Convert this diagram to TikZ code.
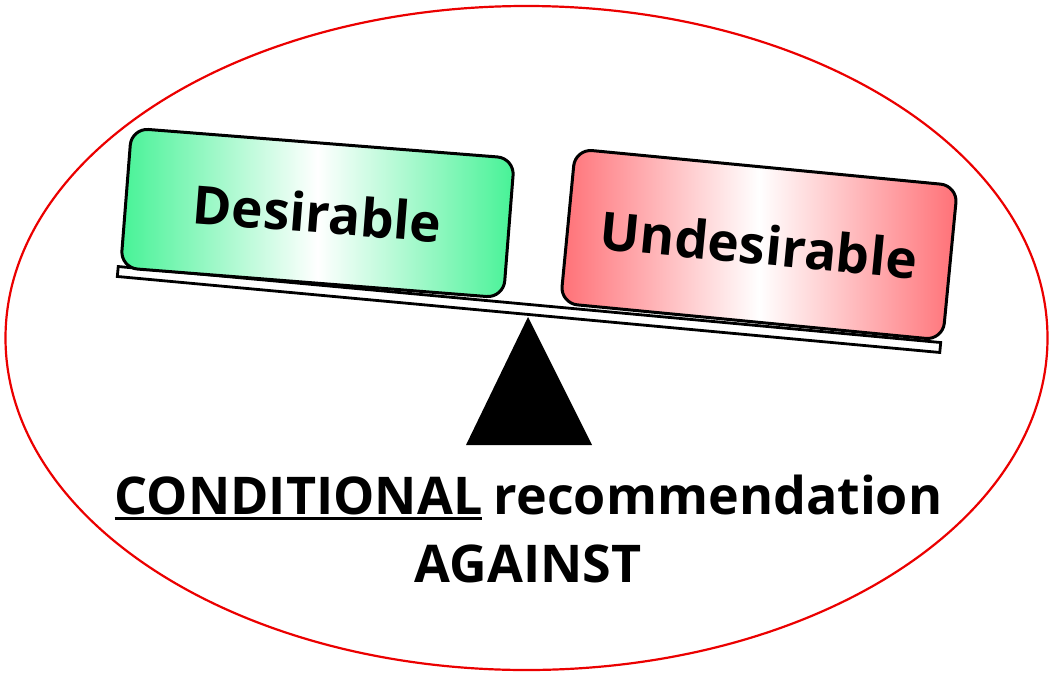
\documentclass[tikz,border=0pt]{standalone}
\usepackage{fontspec}
\setmainfont{Open Sans}
\definecolor{desgreen}{RGB}{70,242,150}
\definecolor{undred}{RGB}{255,112,118}
\definecolor{ellred}{RGB}{235,0,0}
\newcommand\myul[1]{\setbox0\hbox{#1}\rlap{\rule[-6pt]{\wd0}{3pt}}\box0\relax}
\begin{document}
\begin{tikzpicture}[x=1pt,y=-1pt,
  pan/.style={draw=black, line width=3pt, rounded corners=17pt, inner sep=0pt,
    minimum width=384pt, font=\fontsize{53}{60}\selectfont\bfseries},
  beam/.style={draw=black, fill=white, line width=2.8pt, inner sep=0pt,
    minimum width=826pt, minimum height=10pt},
  caption/.style={anchor=base, inner sep=0pt, font=\fontsize{52}{60}\selectfont\bfseries}]
\useasboundingbox (0,0) rectangle (1049,672);
% outer ellipse
\draw[ellred, line width=2.2pt] (526.5,338) ellipse [x radius=521, y radius=332];
% beam
\node[beam, rotate=-5.28] (beam) at (529,309.5) {};
% pans
\node[pan, minimum height=140pt, rotate=-4.5,
  left color=desgreen, right color=desgreen, middle color=white] (des) at (317.5,213) {Desirable};
\node[pan, minimum height=155pt, rotate=-5.5,
  left color=undred, right color=undred, middle color=white] (und) at (759,244.5) {Undesirable};
% fulcrum
\coordinate (apex) at (528,317);
\coordinate (bl) at (466,445);
\coordinate (br) at (592,445);
\fill[black] (apex) -- (br) -- (bl) -- cycle;
% caption
\node[caption] (line1) at (528.5,514) {\myul{CONDITIONAL}\hspace{-2pt} recommendation};
\node[caption] (line2) at (528,582) {AGAINST};
\end{tikzpicture}
\end{document}
